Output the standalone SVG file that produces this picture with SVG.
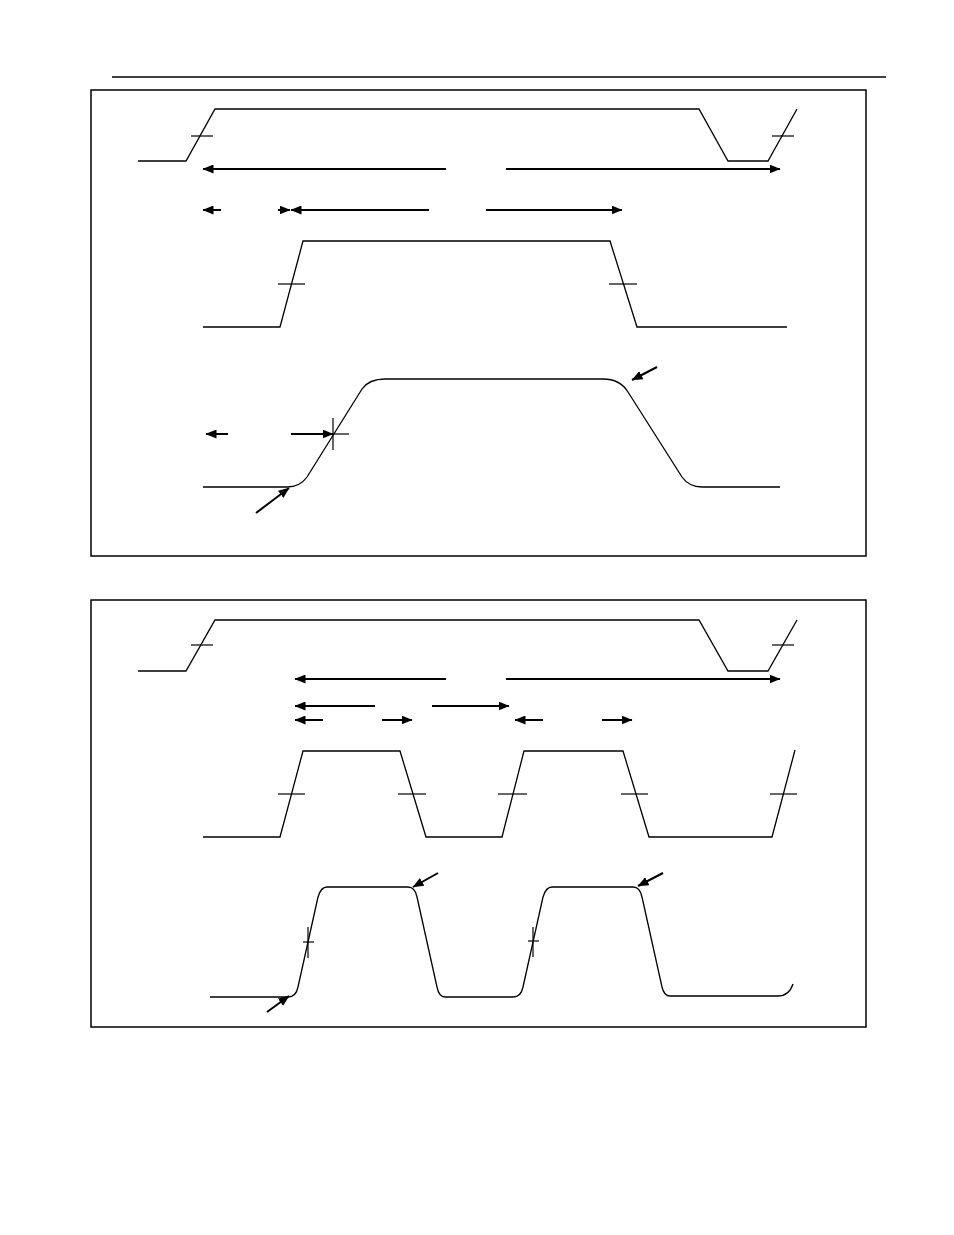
<svg xmlns="http://www.w3.org/2000/svg" width="954" height="1235" viewBox="0 0 954 1235">
<style>
.frame{fill:none;stroke:#000;stroke-width:1.5}
.sig{fill:none;stroke:#000;stroke-width:1.3;stroke-linejoin:miter}
.tick{fill:none;stroke:#000;stroke-width:1.2}
.arr{fill:none;stroke:#000;stroke-width:2;marker-end:url(#ah)}
</style>
<defs>
<marker id="ah" markerUnits="userSpaceOnUse" markerWidth="11" markerHeight="9" viewBox="0 0 11 9" refX="10.5" refY="4.5" orient="auto">
<path d="M0,0 L11,4.5 L0,9 z" fill="#000"/>
</marker>
</defs>
<rect width="954" height="1235" fill="#fff"/>
<line x1="112" y1="77" x2="886" y2="77" stroke="#000" stroke-width="1.3"/>

<g id="panel1">
<rect class="frame" x="91" y="90" width="775" height="466"/>
<g id="p1-sig1">
<path class="sig" d="M138,161 L186,161 L215,109 L699,109 L728,161 L768,161 L797,109"/>
<line class="tick" x1="191" y1="136" x2="213" y2="136"/>
<line class="tick" x1="772" y1="136" x2="794" y2="136"/>
</g>
<g id="p1-sig2">
<path class="sig" d="M203,327 L280,327 L303,241 L610,241 L637,327 L787,327"/>
<line class="tick" x1="278" y1="284" x2="305" y2="284"/>
<line class="tick" x1="609" y1="284" x2="637" y2="284"/>
</g>
<g id="p1-sig3">
<path class="sig" d="M203,487 L287,487 Q300,487 307,477 L362,389 Q369,379 385,379 L603,379 Q620,379 628,392 L682,477 Q689,487 702,487 L780,487"/>
<line class="tick" x1="333" y1="418" x2="333" y2="450"/>
<line class="tick" x1="322" y1="434" x2="349" y2="434"/>
</g>
<g id="p1-connectors">
<line class="arr" x1="446" y1="169" x2="203" y2="169"/>
<line class="arr" x1="506" y1="169" x2="780" y2="169"/>
<line class="arr" x1="221" y1="210" x2="203" y2="210"/>
<line class="arr" x1="278" y1="210" x2="290" y2="210"/>
<line class="arr" x1="429" y1="210" x2="291" y2="210"/>
<line class="arr" x1="486" y1="210" x2="622" y2="210"/>
<line class="arr" x1="228" y1="434" x2="206" y2="434"/>
<line class="arr" x1="291" y1="434" x2="333" y2="434"/>
<line class="arr" x1="256" y1="513" x2="289" y2="488"/>
<line class="arr" x1="657" y1="367" x2="632" y2="380"/>
</g>
</g>

<g id="panel2">
<rect class="frame" x="91" y="600" width="775" height="427"/>
<g id="p2-sig1">
<path class="sig" d="M138,671 L186,671 L215,620 L699,620 L728,671 L768,671 L797,620"/>
<line class="tick" x1="191" y1="645" x2="213" y2="645"/>
<line class="tick" x1="772" y1="645" x2="794" y2="645"/>
</g>
<g id="p2-sig2">
<path class="sig" d="M203,837 L280,837 L303,751 L400,751 L426,837 L502,837 L524,751 L623,751 L649,837 L772,837 L795,750"/>
<line class="tick" x1="278" y1="794" x2="305" y2="794"/>
<line class="tick" x1="398" y1="794" x2="426" y2="794"/>
<line class="tick" x1="498" y1="794" x2="527" y2="794"/>
<line class="tick" x1="621" y1="794" x2="648" y2="794"/>
<line class="tick" x1="770" y1="794" x2="797" y2="794"/>
</g>
<g id="p2-sig3">
<path class="sig" d="M210,997 L288,997 Q296,997 298,987 L318,897 Q321,887 327,887 L408,887 Q415,887 417,897 L437,987 Q439,997 445,997 L513,997 Q521,997 523,987 L543,897 Q546,887 552,887 L633,887 Q640,887 642,897 L662,987 Q664,996 670,996 L778,996 Q789,996 793,984"/>
<line class="tick" x1="308" y1="927" x2="308" y2="958"/>
<line class="tick" x1="303" y1="942" x2="314" y2="942"/>
<line class="tick" x1="533" y1="927" x2="533" y2="957"/>
<line class="tick" x1="528" y1="941" x2="539" y2="941"/>
</g>
<g id="p2-connectors">
<line class="arr" x1="446" y1="679" x2="295" y2="679"/>
<line class="arr" x1="506" y1="679" x2="780" y2="679"/>
<line class="arr" x1="375" y1="706" x2="295" y2="706"/>
<line class="arr" x1="432" y1="706" x2="509" y2="706"/>
<line class="arr" x1="323" y1="720" x2="295" y2="720"/>
<line class="arr" x1="382" y1="720" x2="412" y2="720"/>
<line class="arr" x1="543" y1="720" x2="515" y2="720"/>
<line class="arr" x1="602" y1="720" x2="632" y2="720"/>
<line class="arr" x1="267" y1="1012" x2="289" y2="996"/>
<line class="arr" x1="438" y1="873" x2="413" y2="887"/>
<line class="arr" x1="663" y1="873" x2="638" y2="886"/>
</g>
</g>
</svg>
